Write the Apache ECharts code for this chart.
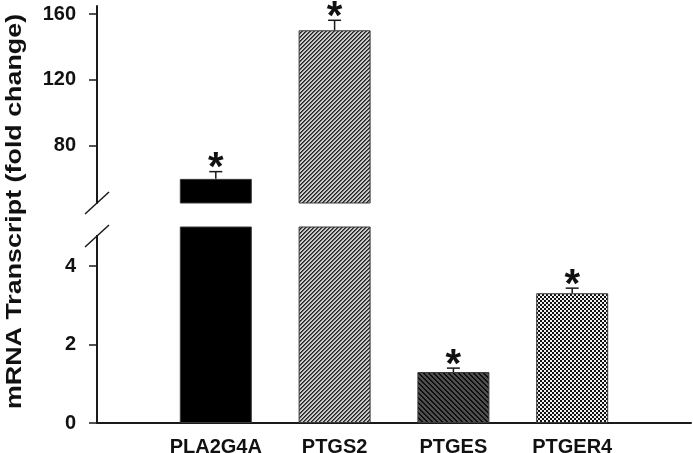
<!DOCTYPE html>
<html><head><meta charset="utf-8">
<script src="https://cdn.jsdelivr.net/npm/echarts@6/dist/echarts.min.js"></script>
<style>html,body{margin:0;padding:0;background:#fff}#c{width:693px;height:453px}</style>
</head><body><div id="c"></div>
<script>
// ---- data ----
const categories = ['PLA2G4A', 'PTGS2', 'PTGES', 'PTGER4'];
const positions = [1, 2, 3, 4];
const means = [59.7, 150.2, 1.30, 3.31];
const errors = [4.4, 6.1, 0.10, 0.13];
const marks = ['*', '*', '*', '*'];
const upperTicks = [80, 120, 160];
const lowerTicks = [0, 2, 4];
const yTitle = 'mRNA Transcript (fold change)';

// ---- fills ----
function makePattern(size, bg, fg, test) {
  const c = document.createElement('canvas'); c.width = c.height = size;
  const ctx = c.getContext('2d');
  ctx.fillStyle = bg; ctx.fillRect(0, 0, size, size);
  for (let x = 0; x < size; x++) for (let y = 0; y < size; y++) {
    const v = test(x, y);
    if (v) { ctx.fillStyle = v === true ? fg : v; ctx.fillRect(x, y, 1, 1); }
  }
  return { image: c, repeat: 'repeat' };
}
const fills = [
  '#000000',
  makePattern(4, '#cacaca', '#222222', (x, y) => { const s = (x + y) % 4; return s === 0 ? true : (s === 1 ? '#5a5a5a' : false); }),
  makePattern(5, '#4e4e4e', '#0e0e0e', (x, y) => ((x - y + 10) % 5) < 2),
  makePattern(4, '#f2f2f2', '#111111', (x, y) => ((Math.floor(x / 2) + Math.floor(y / 2)) % 2) === 0)
];

const axisColor = '#1a1a1a';
const font = '"Liberation Sans", Arial, sans-serif';

const barData = positions.map((p, i) => ({ value: [p, means[i]], itemStyle: { color: fills[i] } }));
const errData = positions.map((p, i) => [p, means[i], errors[i], marks[i]]);

function renderErr(params, api) {
  const x = api.value(0), m = api.value(1), e = api.value(2);
  const top = api.coord([x, m]);
  const cap = api.coord([x, m + e]);
  const cs = params.coordSys;
  if (top[1] < cs.y - 0.5 || top[1] > cs.y + cs.height + 0.5) return null;
  const half = 6.5;
  return {
    type: 'group', children: [
      { type: 'line', shape: { x1: top[0], y1: top[1], x2: cap[0], y2: cap[1] }, style: { stroke: axisColor, lineWidth: 1.5 } },
      { type: 'line', shape: { x1: cap[0] - half, y1: cap[1], x2: cap[0] + half, y2: cap[1] }, style: { stroke: axisColor, lineWidth: 1.5 } },
      { type: 'text', x: cap[0], y: cap[1] - 2.5, style: { text: marks[params.dataIndex], textAlign: 'center', textVerticalAlign: 'middle', font: 'bold 40px ' + font, fill: '#111' } }
    ]
  };
}

const chart = echarts.init(document.getElementById('c'), null, { renderer: 'canvas' });
const xBase = {
  type: 'value', min: 0, max: 5, interval: 1,
  splitLine: { show: false }, axisTick: { show: false }
};
const tickLabel = { margin: 21, fontSize: 20, fontWeight: 'bold', color: '#111', fontFamily: font };
chart.setOption({
  animation: false,
  backgroundColor: '#fff',
  grid: [
    { left: 97, right: 2, top: 6, height: 197, containLabel: false, outerBoundsMode: 'none' },
    { left: 97, right: 2, top: 227, height: 196, containLabel: false, outerBoundsMode: 'none' }
  ],
  xAxis: [
    Object.assign({}, xBase, { gridIndex: 0, show: false }),
    Object.assign({}, xBase, {
      gridIndex: 1,
      axisLine: { lineStyle: { color: axisColor, width: 2 } },
      axisLabel: {
        margin: 14, fontSize: 20, fontWeight: 'bold', color: '#111', fontFamily: font,
        formatter: v => { const i = positions.indexOf(v); return i >= 0 ? categories[i] : ''; }
      }
    })
  ],
  yAxis: [
    {
      gridIndex: 0, type: 'value', min: 45, max: 165,
      splitLine: { show: false },
      axisLine: { show: true, lineStyle: { color: axisColor, width: 2 } },
      axisTick: { show: true, length: 8, customValues: upperTicks, lineStyle: { color: axisColor, width: 1.5 } },
      axisLabel: Object.assign({ customValues: upperTicks }, tickLabel)
    },
    {
      gridIndex: 1, type: 'value', min: 0, max: 5,
      splitLine: { show: false },
      axisLine: { show: true, lineStyle: { color: axisColor, width: 2 } },
      axisTick: { show: true, length: 8, customValues: lowerTicks, lineStyle: { color: axisColor, width: 1.5 } },
      axisLabel: Object.assign({ customValues: lowerTicks }, tickLabel)
    }
  ],
  series: [
    { type: 'bar', xAxisIndex: 0, yAxisIndex: 0, data: barData, barWidth: 72, clip: true, itemStyle: { borderColor: '#3a3a3a', borderWidth: 1 } },
    { type: 'bar', xAxisIndex: 1, yAxisIndex: 1, data: barData, barWidth: 72, clip: true, itemStyle: { borderColor: '#3a3a3a', borderWidth: 1 } },
    { type: 'custom', xAxisIndex: 0, yAxisIndex: 0, data: errData, renderItem: renderErr, clip: false, z: 5 },
    { type: 'custom', xAxisIndex: 1, yAxisIndex: 1, data: errData, renderItem: renderErr, clip: false, z: 5 }
  ]
});

// axis break marks and rotated axis title
const pUp = chart.convertToPixel({ gridIndex: 0 }, [0, 45]);
const pLo = chart.convertToPixel({ gridIndex: 1 }, [0, 5]);
function slash(cx, cy) {
  return { type: 'line', shape: { x1: cx - 12, y1: cy + 11, x2: cx + 12, y2: cy - 11 }, style: { stroke: axisColor, lineWidth: 1.5 }, z: 10 };
}
chart.setOption({
  graphic: [
    slash(pUp[0], pUp[1]),
    { type: 'rect', shape: { x: pLo[0] - 2, y: pLo[1] - 1, width: 4, height: 9 }, style: { fill: '#fff' }, z: 9 },
    slash(pLo[0], pLo[1] + 9),
    {
      type: 'text', x: 15, y: 211.5, rotation: Math.PI / 2, scaleX: 1.22,
      style: { text: yTitle, textAlign: 'center', textVerticalAlign: 'middle', font: 'bold 22px ' + font, fill: '#111' }
    }
  ]
});
</script></body></html>
